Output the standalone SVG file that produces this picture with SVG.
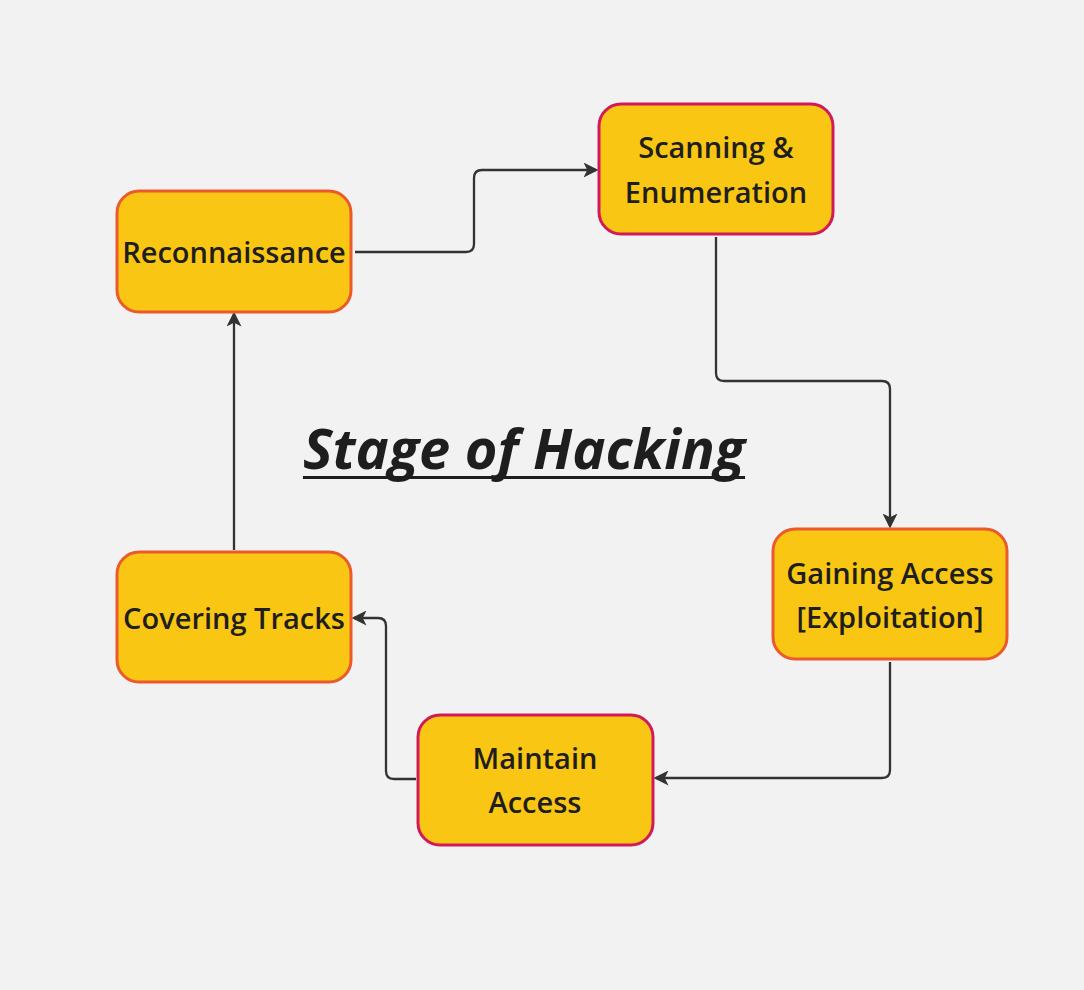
<svg xmlns="http://www.w3.org/2000/svg" width="1084" height="990" viewBox="0 0 1084 990">
<defs>
<marker id="arr" viewBox="0 0 12 12" refX="10" refY="6" markerWidth="15" markerHeight="15" markerUnits="userSpaceOnUse" orient="auto">
<path d="M0,0 L12,6 L0,12 L3,6 Z" fill="#333333"/>
</marker>
<style>
.box{fill:#f9c613;stroke-width:3}
.o{stroke:#ea5a2c}
.c{stroke:#d21a5b}
.t{font-family:"Open Sans","Noto Sans",sans-serif;font-weight:600;font-size:29px;fill:#1e1e1e;text-anchor:middle}
.e{fill:none;stroke:#333333;stroke-width:2.3;marker-end:url(#arr)}
</style>
</defs>
<rect width="1084" height="990" fill="#f2f2f2"/>
<g id="connectors">
<path class="e" d="M355,252 H466 Q474,252 474,244 V178 Q474,170 482,170 H596"/>
<path class="e" d="M716,237 V373 Q716,381 724,381 H882 Q890,381 890,389 V526"/>
<path class="e" d="M890,662 V770 Q890,778 882,778 H656"/>
<path class="e" d="M416,779 H394 Q386,779 386,771 V626 Q386,618 378,618 H354"/>
<path class="e" d="M234,550 V314"/>
</g>
<g id="title">
<text x="524" y="469" font-family="'Open Sans','Noto Sans',sans-serif" font-weight="700" font-style="italic" font-size="56" fill="#1e1e1e" text-anchor="middle">Stage of Hacking</text>
<rect x="303" y="476" width="442" height="3" fill="#1e1e1e"/>
</g>
<g id="recon">
<rect class="box o" x="117" y="191" width="234" height="121" rx="22"/>
<text class="t" x="234" y="263">Reconnaissance</text>
</g>
<g id="scanning">
<rect class="box c" x="599" y="104" width="234" height="130" rx="22"/>
<text class="t" x="716" y="158">Scanning &amp;</text>
<text class="t" x="716" y="203">Enumeration</text>
</g>
<g id="gaining">
<rect class="box o" x="773" y="529" width="234" height="130" rx="22"/>
<text class="t" x="890" y="584">Gaining Access</text>
<text class="t" x="890" y="628">[Exploitation]</text>
</g>
<g id="maintain">
<rect class="box c" x="418" y="715" width="235" height="130" rx="22"/>
<text class="t" x="535" y="769">Maintain</text>
<text class="t" x="535" y="813">Access</text>
</g>
<g id="covering">
<rect class="box o" x="117" y="552" width="234" height="130" rx="22"/>
<text class="t" x="234" y="629">Covering Tracks</text>
</g>
</svg>
